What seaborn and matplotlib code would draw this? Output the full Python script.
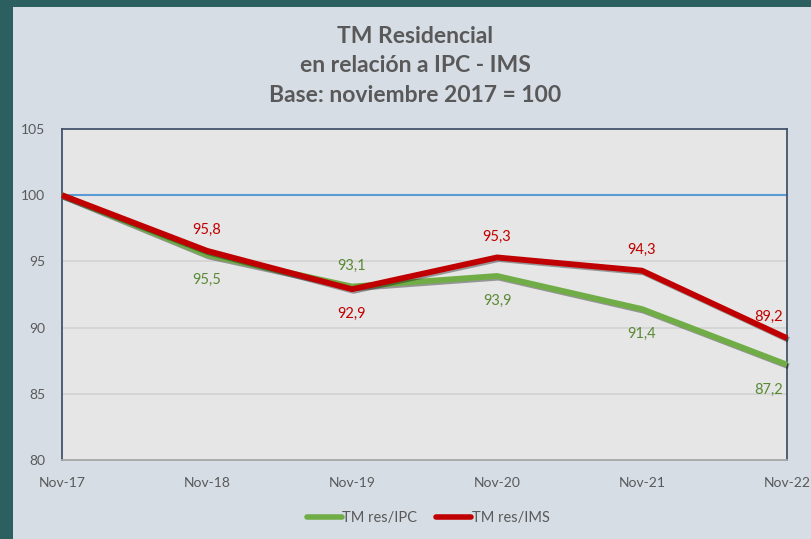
import matplotlib
matplotlib.use("Agg")
import matplotlib.pyplot as plt
import matplotlib.patheffects as pe
from matplotlib.patches import Rectangle
from matplotlib.lines import Line2D
import seaborn as sns
import pandas as pd

periods = ["Nov-17", "Nov-18", "Nov-19", "Nov-20", "Nov-21", "Nov-22"]
ipc = [100.0, 95.5, 93.1, 93.9, 91.4, 87.2]
ims = [100.0, 95.8, 92.9, 95.3, 94.3, 89.2]
ipc_labels = ["", "95,5", "93,1", "93,9", "91,4", "87,2"]
ims_labels = ["", "95,8", "92,9", "95,3", "94,3", "89,2"]
ipc_pos = ["", "below", "above", "below", "below", "below"]
ims_pos = ["", "above", "below", "above", "above", "above"]
yticks = [80, 85, 90, 95, 100, 105]

sns.set_theme(style="white")
plt.rcParams["font.family"] = ["Lato", "DejaVu Sans"]

teal = "#2c5f5f"
panel = "#d6dde5"
fig = plt.figure(figsize=(8.11, 5.39), dpi=100, facecolor=teal)
fig.patches.append(Rectangle((13/811, 0), 1, 1 - 7/539, transform=fig.transFigure,
                             facecolor=panel, edgecolor="none", zorder=-10))
ax = fig.add_axes([62/811, 1 - 460/539, (787 - 62)/811, (460 - 129)/539])
ax.set_zorder(1)
ax.set_facecolor("#e6e6e6")

df = pd.DataFrame({"x": list(range(len(periods))) * 2,
                   "y": ipc + ims,
                   "serie": ["TM res/IPC"] * len(ipc) + ["TM res/IMS"] * len(ims)})

for v in [85, 90, 95]:
    ax.axhline(v, color="#d2d2d2", lw=1.2, zorder=1)
ax.axhline(100, color="#5b9bd5", lw=1.5, zorder=2)

shadow = [pe.SimpleLineShadow(offset=(1.2, -1.2), shadow_color="black", alpha=0.35), pe.Normal()]
sns.lineplot(data=df, x="x", y="y", hue="serie",
             palette={"TM res/IPC": "#70ad47", "TM res/IMS": "#c00000"},
             linewidth=4.2, ax=ax, legend=False, zorder=3)
for line in ax.lines[-2:]:
    line.set_path_effects(shadow)
    line.set_solid_capstyle("butt")
    line.set_clip_on(False)

def lab(vals, labels, pos, color):
    n = len(vals)
    for i, (v, t, p) in enumerate(zip(vals, labels, pos)):
        if not t:
            continue
        dy = 15 if p == "above" else -18
        dx = -13 if i == n - 1 else 0
        ax.annotate(t, (i, v), xytext=(dx, dy), textcoords="offset points",
                    ha="center", va="center", color=color, fontsize=10.5)

lab(ipc, ipc_labels, ipc_pos, "#5a8a34")
lab(ims, ims_labels, ims_pos, "#c00000")

ax.set_xlim(0, len(periods) - 1)
ax.set_ylim(80, 105)
ax.set_xticks(range(len(periods)))
ax.set_xticklabels(periods)
ax.set_yticks(yticks)
ax.tick_params(axis="x", colors="#595959", labelsize=10, pad=12, length=0)
ax.tick_params(axis="y", colors="#595959", labelsize=10, pad=12, length=0)
ax.set_xlabel("")
ax.set_ylabel("")
for s in ["left", "top", "right"]:
    ax.spines[s].set_color("#44546a")
    ax.spines[s].set_linewidth(1.3)
ax.spines["bottom"].set_color("#a6a6a6")
ax.spines["bottom"].set_linewidth(1.3)

for yy, txt in [(36, "TM Residencial"), (66, "en relación a IPC - IMS"),
                (96, "Base: noviembre 2017 = 100")]:
    fig.text(0.512, 1 - yy/539, txt, ha="center", va="center",
             fontsize=16.5, fontweight="bold", color="#595959")

handles = [Line2D([], [], color="#70ad47", lw=4, solid_capstyle="round"),
           Line2D([], [], color="#c00000", lw=4, solid_capstyle="round")]
fig.legend(handles, ["TM res/IPC", "TM res/IMS"], loc="center",
           bbox_to_anchor=(0.528, 1 - 518/539), ncol=2, frameon=False,
           fontsize=10.5, handlelength=2.4, handletextpad=0.05, columnspacing=1.3,
           labelcolor="#595959")

fig.savefig("out.png", dpi=100, facecolor=teal)
